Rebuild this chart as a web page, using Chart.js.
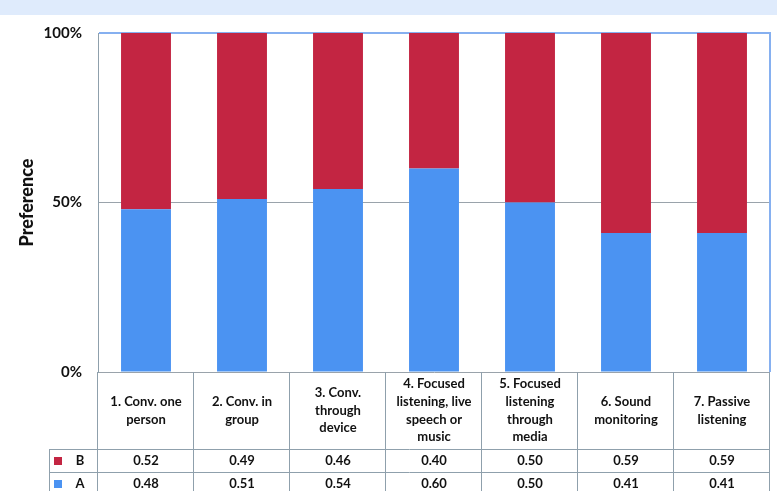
<!DOCTYPE html>
<html>
<head>
<meta charset="utf-8">
<script src="https://cdn.jsdelivr.net/npm/chart.js@4/dist/chart.umd.min.js"></script>
<style>
  html, body { margin: 0; padding: 0; background: #ffffff; }
  #wrap { position: relative; width: 777px; height: 491px; }
</style>
</head>
<body>
<div id="wrap"><canvas id="c" width="777" height="491"></canvas></div>
<script>
const categories = [
  ["1. Conv. one", "person"],
  ["2. Conv. in", "group"],
  ["3. Conv.", "through", "device"],
  ["4. Focused", "listening, live", "speech or", "music"],
  ["5. Focused", "listening", "through", "media"],
  ["6. Sound", "monitoring"],
  ["7. Passive", "listening"]
];
const seriesA = [0.48, 0.51, 0.54, 0.60, 0.50, 0.41, 0.41];
const seriesB = [0.52, 0.49, 0.46, 0.40, 0.50, 0.59, 0.59];
const yTicks = [0, 0.5, 1];
const yTickLabels = ["0%", "50%", "100%"];

const RED = "#c32542";
const BLUE = "#4b93f2";
const FONT = "Lato, 'Open Sans', sans-serif";
const LINE = "#8fa0ac";
const FRAME = "#86b0f0";

const tablePlugin = {
  id: "tablePlugin",
  beforeDraw(chart) {
    const ctx = chart.ctx;
    ctx.save();
    ctx.fillStyle = "#dfebfc";
    ctx.fillRect(0, 0, chart.width, 15);
    ctx.restore();
  },
  afterDraw(chart) {
    const ctx = chart.ctx;
    const area = chart.chartArea;
    const xs = chart.scales.x;
    const n = categories.length;
    const colW = (area.right - area.left) / n;
    const headerBottom = area.bottom + 77;
    const rowH = 23;
    const rows = [
      { name: "B", color: RED, values: seriesB },
      { name: "A", color: BLUE, values: seriesA }
    ];
    const legendLeft = 49;
    ctx.save();
    // right frame of plot area
    ctx.strokeStyle = FRAME;
    ctx.lineWidth = 2;
    ctx.beginPath();
    ctx.moveTo(area.right, area.top - 1);
    ctx.lineTo(area.right, area.bottom);
    ctx.stroke();

    ctx.strokeStyle = LINE;
    ctx.lineWidth = 1;
    // vertical lines
    for (let i = 0; i <= n; i++) {
      const x = Math.round(area.left + i * colW) - 0.5;
      ctx.beginPath();
      ctx.moveTo(x, area.bottom);
      ctx.lineTo(x, chart.height);
      ctx.stroke();
    }
    // legend column left border
    ctx.beginPath();
    ctx.moveTo(legendLeft + 0.5, headerBottom);
    ctx.lineTo(legendLeft + 0.5, chart.height);
    ctx.stroke();
    // horizontal lines
    for (let r = 0; r <= rows.length; r++) {
      const y = Math.round(headerBottom + r * rowH) + 0.5;
      ctx.beginPath();
      ctx.moveTo(legendLeft, y);
      ctx.lineTo(area.right, y);
      ctx.stroke();
    }
    // header labels
    ctx.fillStyle = "#111111";
    ctx.font = "bold 13px " + FONT;
    ctx.textAlign = "center";
    ctx.textBaseline = "middle";
    const lh = 17.7;
    const midY = (area.bottom + headerBottom) / 2;
    categories.forEach((lines, i) => {
      const cx = xs.getPixelForValue(i);
      const startY = midY - (lines.length - 1) * lh / 2;
      lines.forEach((t, k) => ctx.fillText(t, cx, startY + k * lh));
    });
    // rows
    rows.forEach((row, r) => {
      const cy = headerBottom + r * rowH + rowH / 2;
      ctx.fillStyle = row.color;
      ctx.fillRect(54, Math.round(cy - 4), 8, 8);
      ctx.fillStyle = "#111111";
      ctx.font = "bold 13px " + FONT;
      ctx.textAlign = "center";
      ctx.fillText(row.name, 80, cy);
      row.values.forEach((v, i) => {
        ctx.fillText(v.toFixed(2), xs.getPixelForValue(i), cy);
      });
    });
    ctx.restore();
  }
};

new Chart(document.getElementById("c"), {
  type: "bar",
  data: {
    labels: categories,
    datasets: [
      { label: "A", data: seriesA, backgroundColor: BLUE, borderWidth: 0, categoryPercentage: 1, barPercentage: 0.52 },
      { label: "B", data: seriesB, backgroundColor: RED, borderWidth: 0, categoryPercentage: 1, barPercentage: 0.52 }
    ]
  },
  options: {
    responsive: false,
    animation: false,
    devicePixelRatio: 1,
    layout: { padding: { left: 0, right: 7, top: 33, bottom: 119 } },
    plugins: {
      legend: { display: false },
      tooltip: { enabled: false }
    },
    scales: {
      x: {
        stacked: true,
        ticks: { display: false },
        grid: { display: false, drawTicks: false },
        border: { display: false },
        afterFit(s) { s.height = 0; }
      },
      y: {
        stacked: true,
        min: 0,
        max: 1,
        afterBuildTicks(s) { s.ticks = yTicks.map(v => ({ value: v })); },
        ticks: {
          padding: 16,
          color: "#111111",
          font: { family: FONT, size: 15, weight: "bold" },
          callback: (v) => yTickLabels[yTicks.indexOf(v)]
        },
        grid: {
          color: (c) => c.tick && c.tick.value === 1 ? FRAME : "#9aa3ab",
          lineWidth: (c) => c.tick && c.tick.value === 1 ? 2 : 1,
          drawTicks: false
        },
        border: { display: true, color: "#8fa0ac", width: 1 },
        title: {
          display: true,
          text: "Preference",
          color: "#111111",
          font: { family: FONT, size: 18, weight: "900" },
          padding: { top: 16, bottom: 0 }
        },
        afterFit(s) { s.width = 98; }
      }
    }
  },
  plugins: [tablePlugin]
});
</script>
</body>
</html>
